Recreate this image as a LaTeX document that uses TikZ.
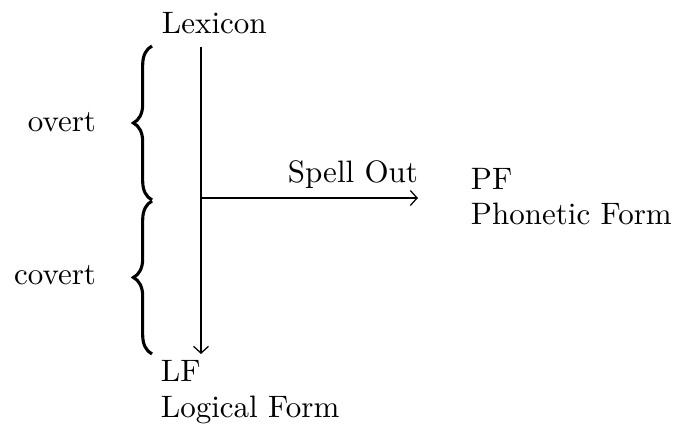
\documentclass[tikz,border=0pt]{standalone}
\usetikzlibrary{arrows.meta,decorations.pathreplacing}
\begin{document}
\begin{tikzpicture}[x=0.3226pt,y=-0.3226pt,
  lbl/.style={inner sep=0pt,outer sep=0pt,font=\fontsize{10pt}{12pt}\selectfont},
  brc/.style={decorate,decoration={brace,amplitude=6pt,aspect=0.5},line width=1pt},
  tip/.style={-{Straight Barb[length=2.2pt,width=4.8pt,line width=0.4pt]}},
  thinline/.style={line width=0.35pt},
  thickline/.style={line width=0.7pt}]
\useasboundingbox (0,0) rectangle (677,426);
% text
\node[lbl,anchor=base west] (lex) at (162,34) {Lexicon};
\node[lbl,anchor=base east] (overt) at (96,132) {overt};
\node[lbl,anchor=base east] (covert) at (96,285) {covert};
\node[lbl,anchor=base east] (spell) at (418,183) {Spell Out};
\node[lbl,anchor=base west] (pf) at (471,190) {PF};
\node[lbl,anchor=base west] (pfl) at (471,225) {Phonetic Form};
\node[lbl,anchor=base west] (lf) at (161,382) {LF};
\node[lbl,anchor=base west] (lfl) at (161,418) {Logical Form};
% braces
\coordinate (b1s) at (152,200);
\coordinate (b1e) at (152,46);
\coordinate (b2s) at (152,354);
\coordinate (b2e) at (152,201);
\draw[brc] (b1s) -- (b1e);
\draw[brc] (b2s) -- (b2e);
% lines
\coordinate (top) at (201,47);
\coordinate (bot) at (201,354);
\coordinate (split) at (201,198);
\coordinate (mid) at (396,198);
\coordinate (right) at (418,198);
\draw[thinline,tip] (top) -- (bot);
\draw[thickline] (split) -- (mid);
\draw[thinline,tip] (mid) -- (right);
\end{tikzpicture}
\end{document}
